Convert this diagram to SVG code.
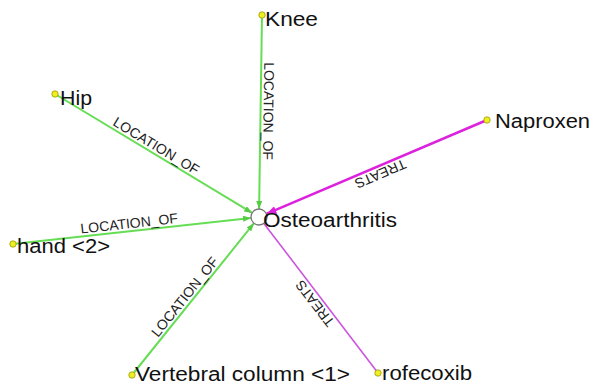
<svg xmlns="http://www.w3.org/2000/svg" width="594" height="385" viewBox="0 0 594 385">
<defs>
<marker id="ag" viewBox="0 0 8 6" refX="8" refY="3" markerWidth="8" markerHeight="6" markerUnits="userSpaceOnUse" orient="auto"><path d="M0,0 L8,3 L0,6 z" fill="#55cc44"/></marker>
<marker id="am" viewBox="0 0 10 8" refX="10" refY="4" markerWidth="10" markerHeight="8" markerUnits="userSpaceOnUse" orient="auto"><path d="M0,0 L10,4 L0,8 z" fill="#dd22dd"/></marker>
<style>
.loc{stroke:#66dd55;stroke-width:2;fill:none}
.tr{stroke:#dd22dd;stroke-width:2.5;fill:none}
.tr2{stroke:#cc55dd;stroke-width:1.6;fill:none}
.el{font-family:"Liberation Sans",Arial,sans-serif;font-size:14px;fill:#222;text-anchor:middle}
.nl{font-family:"Liberation Sans",Arial,sans-serif;font-size:20px;fill:#111}
.dot{fill:#eeee22;stroke:#999900;stroke-width:0.8}
.hub{fill:#fff;stroke:#777;stroke-width:1.3}
</style>
</defs>
<rect width="594" height="385" fill="#fff"/>
<g id="connectors">
<line class="loc" x1="262" y1="15" x2="259.1" y2="209" marker-end="url(#ag)"/>
<line class="loc" x1="55" y1="94" x2="252.2" y2="212.9" marker-end="url(#ag)"/>
<line class="loc" x1="13" y1="244" x2="251" y2="217.9" marker-end="url(#ag)"/>
<line class="loc" x1="132" y1="375" x2="254" y2="223.2" marker-end="url(#ag)"/>
<line class="tr" x1="487" y1="120" x2="266.4" y2="213.9" marker-end="url(#am)"/>
<line class="tr2" x1="378" y1="373" x2="263.9" y2="223.4"/>
<text class="el" transform="translate(260.6,111) rotate(90.85)" y="-3">LOCATION_OF</text>
<text class="el" transform="translate(152.2,152.6) rotate(31.1)" y="-3">LOCATION_OF</text>
<text class="el" transform="translate(130,231.2) rotate(-6.26)" y="-3">LOCATION_OF</text>
<text class="el" transform="translate(190.9,301.7) rotate(-51.2)" y="-3">LOCATION_OF</text>
<text class="el" transform="translate(377.4,166.6) rotate(156.96)" y="-3">TREATS</text>
<text class="el" transform="translate(321.2,298.7) rotate(-127.3)" y="-3">TREATS</text>
</g>
<g id="osteoarthritis">
<circle class="hub" cx="259" cy="217" r="8"/>
<text class="nl" x="263" y="227" textLength="134" lengthAdjust="spacingAndGlyphs">Osteoarthritis</text>
</g>
<g id="knee">
<circle class="dot" cx="262" cy="15" r="3.2"/>
<text class="nl" x="265" y="26" textLength="53" lengthAdjust="spacingAndGlyphs">Knee</text>
</g>
<g id="hip">
<circle class="dot" cx="55" cy="94" r="3.2"/>
<text class="nl" x="60" y="105" textLength="32" lengthAdjust="spacingAndGlyphs">Hip</text>
</g>
<g id="naproxen">
<circle class="dot" cx="487" cy="120" r="3.2"/>
<text class="nl" x="495" y="128" textLength="95" lengthAdjust="spacingAndGlyphs">Naproxen</text>
</g>
<g id="hand">
<circle class="dot" cx="13" cy="244" r="3.2"/>
<text class="nl" x="17" y="253" textLength="93" lengthAdjust="spacingAndGlyphs">hand &lt;2&gt;</text>
</g>
<g id="vertebral">
<circle class="dot" cx="132" cy="375" r="3.2"/>
<text class="nl" x="135" y="381" textLength="215" lengthAdjust="spacingAndGlyphs">Vertebral column &lt;1&gt;</text>
</g>
<g id="rofecoxib">
<circle class="dot" cx="378" cy="373" r="3.2"/>
<text class="nl" x="382" y="380" textLength="90" lengthAdjust="spacingAndGlyphs">rofecoxib</text>
</g>
</svg>
